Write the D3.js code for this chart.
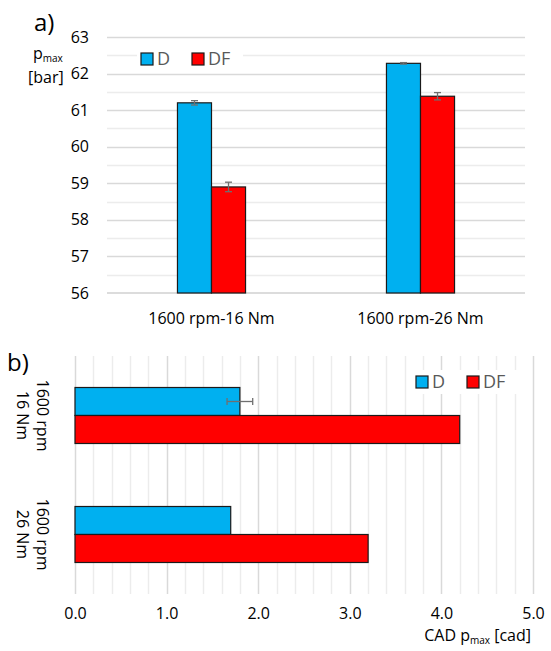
<!DOCTYPE html>
<html>
<head>
<meta charset="utf-8">
<script src="https://cdn.jsdelivr.net/npm/d3@7"></script>
<style>
  html, body { margin: 0; padding: 0; background: #fff; }
  svg text { font-family: "Open Sans", "Liberation Sans", sans-serif; fill: #000; }
</style>
</head>
<body>
<svg id="chart" width="551" height="651"></svg>
<script>
// ---------- data ----------
const seriesNames = ["D", "DF"];
const seriesColors = ["#00B0F0", "#FF0000"];

// panel a
const catsA = ["1600 rpm-16 Nm", "1600 rpm-26 Nm"];
const pmaxD = [61.2, 62.28];
const pmaxDF = [58.9, 61.38];
const pmaxErrD = [0.06, 0.02];
const pmaxErrDF = [0.13, 0.1];
const yTicksA = [56, 57, 58, 59, 60, 61, 62, 63];

// panel b
const catsB = [["1600 rpm", "16 Nm"], ["1600 rpm", "26 Nm"]];
const cadD = [1.8, 1.7];
const cadDF = [4.2, 3.2];
const cadErrD = [0.14, 0];
const cadErrDF = [0, 0];
const xTicksB = [0, 1, 2, 3, 4, 5];

const svg = d3.select("#chart");
const FS = "16px";

// ================= PANEL A =================
const aL = 107, aR = 525, aT = 37, aB = 293;
const yA = d3.scaleLinear().domain([56, 63]).range([aB, aT]);
const x0A = d3.scaleBand().domain(catsA).range([aL, aR]);
const x1A = d3.scaleBand().domain(seriesNames).range([0, x0A.bandwidth()]).paddingInner(0).paddingOuter(2.07);

// gridlines (major + half)
const gridA = d3.range(56.5, 63.01, 0.5);
svg.append("g").selectAll("line").data(gridA).join("line")
  .attr("x1", aL).attr("x2", aR)
  .attr("y1", d => Math.round(yA(d)) + 0.5).attr("y2", d => Math.round(yA(d)) + 0.5)
  .attr("stroke", d => Number.isInteger(d) ? "#d9d9d9" : "#ececec")
  .attr("stroke-width", 1.5);

// baseline
svg.append("line").attr("x1", aL).attr("x2", aR)
  .attr("y1", yA(56)).attr("y2", yA(56)).attr("stroke", "#d0d0d0").attr("stroke-width", 1.5);

// y axis tick labels
const yAxisA = d3.axisLeft(yA).tickValues(yTicksA).tickSize(0).tickPadding(0).tickFormat(d3.format("d"));
const gya = svg.append("g").attr("transform", `translate(89,0)`).call(yAxisA);
gya.select(".domain").remove();
gya.selectAll("text").style("font-size", FS).style("font-family", '"Open Sans", sans-serif').attr("fill", "#000");

// bars
const dataA = catsA.map((c, i) => ({ cat: c, vals: [
  { s: "D", v: pmaxD[i], e: pmaxErrD[i], col: seriesColors[0] },
  { s: "DF", v: pmaxDF[i], e: pmaxErrDF[i], col: seriesColors[1] }
]}));
const ga = svg.append("g").selectAll("g").data(dataA).join("g")
  .attr("transform", d => `translate(${x0A(d.cat)},0)`);
ga.selectAll("rect").data(d => d.vals).join("rect")
  .attr("x", d => x1A(d.s)).attr("width", x1A.bandwidth())
  .attr("y", d => yA(d.v)).attr("height", d => yA(56) - yA(d.v))
  .attr("fill", d => d.col).attr("stroke", "#1a1a1a").attr("stroke-width", 1.2);
// error bars
const eA = ga.selectAll("g.err").data(d => d.vals).join("g").attr("class", "err");
eA.append("line")
  .attr("x1", d => x1A(d.s) + x1A.bandwidth() / 2).attr("x2", d => x1A(d.s) + x1A.bandwidth() / 2)
  .attr("y1", d => yA(d.v + d.e)).attr("y2", d => yA(d.v - d.e))
  .attr("stroke", "#6f6f6f").attr("stroke-width", 1.3);
eA.selectAll("line.cap").data(d => [d.v + d.e, d.v - d.e].map(y => ({ y, s: d.s }))).join("line").attr("class", "cap")
  .attr("x1", d => x1A(d.s) + x1A.bandwidth() / 2 - 3.5).attr("x2", d => x1A(d.s) + x1A.bandwidth() / 2 + 3.5)
  .attr("y1", d => yA(d.y)).attr("y2", d => yA(d.y))
  .attr("stroke", "#6f6f6f").attr("stroke-width", 1.3);

// x category labels
svg.append("g").selectAll("text").data(catsA).join("text")
  .attr("x", d => x0A(d) + x0A.bandwidth() / 2).attr("y", 324)
  .attr("text-anchor", "middle").style("font-size", FS).text(d => d);

// legend
function legend(x, y) {
  const lg = svg.append("g").attr("transform", `translate(${x},${y})`);
  lg.append("rect").attr("x", -4).attr("y", -12).attr("width", 106).attr("height", 24).attr("fill", "#fff");
  const offs = [0, 51];
  seriesNames.forEach((s, i) => {
    lg.append("rect").attr("x", offs[i]).attr("y", -6).attr("width", 12).attr("height", 12)
      .attr("fill", seriesColors[i]).attr("stroke", "#1a1a1a").attr("stroke-width", 1.2);
    lg.append("text").attr("x", offs[i] + 16).attr("y", 0).attr("dy", "0.36em")
      .style("font-size", "18px").style("fill", "#595959").text(s);
  });
}
legend(141, 59);

// title a & y label
svg.append("text").attr("x", 34).attr("y", 31).style("font-size", "24px").text("a)");
const yl = svg.append("text").attr("x", 33).attr("y", 59).style("font-size", FS);
yl.append("tspan").text("p");
yl.append("tspan").attr("dy", 3).style("font-size", "10px").text("max");
svg.append("text").attr("x", 28).attr("y", 83).style("font-size", FS).text("[bar]");

// ================= PANEL B =================
const bL = 75, bR = 533, bT = 356, bB = 594;
const xB = d3.scaleLinear().domain([0, 5]).range([bL, bR]);
const y0B = d3.scaleBand().domain(catsB.map(d => d[1])).range([bT, bB]);
const y1B = d3.scaleBand().domain(seriesNames).range([0, y0B.bandwidth()]).paddingInner(0).paddingOuter(1.125);

// vertical gridlines every 0.2
const gridB = d3.range(0, 26).map(i => i / 5);
svg.append("g").selectAll("line").data(gridB).join("line")
  .attr("x1", d => Math.round(xB(d)) + 0.5).attr("x2", d => Math.round(xB(d)) + 0.5)
  .attr("y1", bT).attr("y2", bB)
  .attr("stroke", (d, i) => i % 5 === 0 ? "#d9d9d9" : "#ececec")
  .attr("stroke-width", 1.5);

// bars b
const dataB = catsB.map((c, i) => ({ cat: c[1], vals: [
  { s: "D", v: cadD[i], e: cadErrD[i], col: seriesColors[0] },
  { s: "DF", v: cadDF[i], e: cadErrDF[i], col: seriesColors[1] }
]}));
const gb = svg.append("g").selectAll("g").data(dataB).join("g")
  .attr("transform", d => `translate(0,${y0B(d.cat)})`);
gb.selectAll("rect").data(d => d.vals).join("rect")
  .attr("x", xB(0)).attr("width", d => xB(d.v) - xB(0))
  .attr("y", d => y1B(d.s)).attr("height", y1B.bandwidth())
  .attr("fill", d => d.col).attr("stroke", "#1a1a1a").attr("stroke-width", 1.2);
const eB = gb.selectAll("g.err").data(d => d.vals.filter(v => v.e > 0)).join("g").attr("class", "err");
eB.append("line")
  .attr("x1", d => xB(d.v - d.e)).attr("x2", d => xB(d.v + d.e))
  .attr("y1", d => y1B(d.s) + y1B.bandwidth() / 2).attr("y2", d => y1B(d.s) + y1B.bandwidth() / 2)
  .attr("stroke", "#6f6f6f").attr("stroke-width", 1.3);
eB.selectAll("line.cap").data(d => [d.v - d.e, d.v + d.e].map(x => ({ x, s: d.s }))).join("line").attr("class", "cap")
  .attr("x1", d => xB(d.x)).attr("x2", d => xB(d.x))
  .attr("y1", d => y1B(d.s) + y1B.bandwidth() / 2 - 3.5).attr("y2", d => y1B(d.s) + y1B.bandwidth() / 2 + 3.5)
  .attr("stroke", "#6f6f6f").attr("stroke-width", 1.3);

// x axis labels b
const xAxisB = d3.axisBottom(xB).tickValues(xTicksB).tickSize(0).tickPadding(0).tickFormat(d3.format(".1f"));
const gxb = svg.append("g").attr("transform", `translate(0,608)`).call(xAxisB);
gxb.select(".domain").remove();
gxb.selectAll("text").style("font-size", FS).style("font-family", '"Open Sans", sans-serif').attr("fill", "#000");

// rotated category labels b
catsB.forEach((c, i) => {
  const cy = y0B(c[1]) + y0B.bandwidth() / 2;
  svg.append("text").attr("transform", `translate(43,${cy}) rotate(90)`)
    .attr("text-anchor", "middle").attr("dy", "0.35em").style("font-size", FS).text(c[0]);
  svg.append("text").attr("transform", `translate(23,${cy}) rotate(90)`)
    .attr("text-anchor", "middle").attr("dy", "0.35em").style("font-size", FS).text(c[1]);
});

// legend b
legend(416, 382);

// title b & axis title
svg.append("text").attr("x", 7).attr("y", 371).style("font-size", "24px").text("b)");
const xt = svg.append("text").attr("x", 531).attr("y", 641).attr("text-anchor", "end").style("font-size", FS);
xt.append("tspan").text("CAD p");
xt.append("tspan").attr("dy", 3).style("font-size", "10px").text("max");
xt.append("tspan").attr("dy", -3).text(" [cad]");
</script>
</body>
</html>
